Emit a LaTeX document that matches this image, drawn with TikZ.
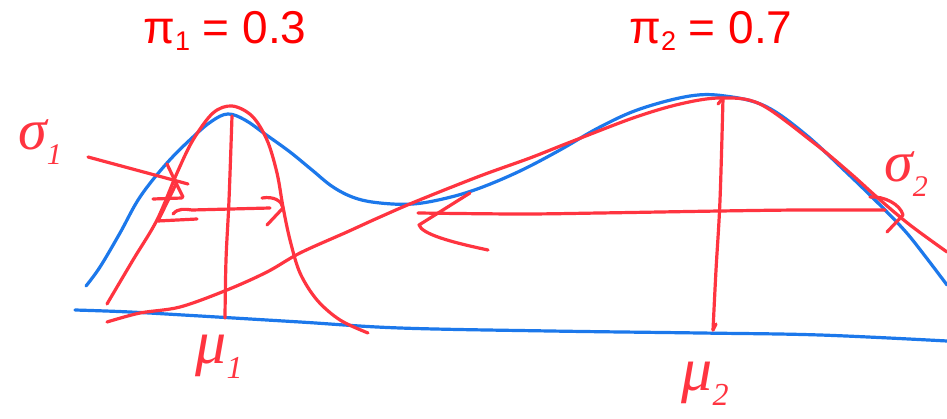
\documentclass[tikz,border=0pt]{standalone}
\usepackage{fontspec}
\setmainfont{Liberation Sans}
\newfontfamily\handfont{Liberation Serif}
\definecolor{penred}{RGB}{255,52,64}
\definecolor{penblue}{RGB}{28,120,235}
\definecolor{titlered}{RGB}{255,0,0}
\newcommand{\lowsub}[2]{\raisebox{-0.16em}{\fontsize{#1}{#1}\selectfont #2}}
\newcommand{\handsub}[2]{\raisebox{-0.25em}{\fontsize{#1}{#1}\selectfont #2}}
\tikzset{
  redpen/.style={draw=penred, line width=3.2pt, line cap=round, line join=round},
  bluepen/.style={draw=penblue, line width=3.2pt, line cap=round, line join=round},
  titletext/.style={text=titlered, inner sep=0pt, font=\fontsize{46}{46}\selectfont},
  handlabel/.style={text=penred, inner sep=0pt, font=\handfont\itshape\fontsize{62}{62}\selectfont},
  sigmalabel/.style={text=penred, inner sep=0pt, font=\handfont\itshape\fontsize{58}{58}\selectfont}
}
\begin{document}
\begin{tikzpicture}[x=1pt, y=-1pt]
\useasboundingbox[fill=white] (0,0) rectangle (947,419);

% titles
\node[titletext] (pi1) at (225,31) {π\lowsub{27}{1} = 0.3};
\node[titletext] (pi2) at (711,31) {π\lowsub{27}{2} = 0.7};

% blue axis
\draw[bluepen] plot[smooth, tension=0.6] coordinates {(75,310) (130,312) (200,316) (300,322) (400,328) (550,331) (700,333) (820,335) (947,341)};

% blue mixture density
\draw[bluepen] plot[smooth, tension=0.6] coordinates {(86,286) (100,267) (120,233) (140,197) (167,163) (193,137) (212,121) (228,114) (245,120) (265,134) (290,152) (312,170) (333,187) (355,198) (380,203) (413,204) (447,198) (480,188) (520,171) (560,150) (600,127) (640,109) (690,96) (725,96) (765,106) (805,134) (845,171) (879,204) (905,231) (925,256) (947,285)};

% red narrow gaussian
\draw[redpen] plot[smooth, tension=0.55] coordinates {(107,304) (133,260) (157,220) (177,173) (193,140) (213,113) (232,106) (252,116) (267,140) (277,173) (283,207) (290,240) (300,273) (317,300) (340,320) (368,333)};

% red wide gaussian
\draw[redpen] plot[smooth, tension=0.55] coordinates {(107,322) (140,313) (180,307) (227,290) (267,272) (300,253) (347,232) (380,217) (417,201) (480,176) (530,158) (568,143) (633,118) (680,104) (720,98) (760,104) (814,143) (850,173) (879,199) (910,225) (947,252)};

% mu1 vertical line
\draw[redpen] plot[smooth, tension=0.6] coordinates {(232,116) (229,200) (226,260) (225,318)};

% mu2 vertical line with small hooks
\draw[redpen] plot[smooth, tension=0.6] coordinates {(723,98) (720,200) (716,270) (713,330)};
\draw[redpen] (718,104) -- (723,98);
\draw[redpen] (713,330) -- (716,324);

% sigma1 bar and arrowheads
\draw[redpen] (173,214) .. controls (178,208) and (185,209) .. (192,210) -- (270,208);
\draw[redpen] (262,198) .. controls (274,196) and (282,201) .. (283,208) -- (267,225);
\draw[redpen] (177,182) -- (158,221) -- (197,219);
% sigma1 pointer scribble
\draw[redpen] (88,157) -- (188,184);
\draw[redpen] (167,164) -- (176,183) -- (183,197);
\draw[redpen] (153,199) -- (182,198);

% sigma2 bar and arrowheads
\draw[redpen] plot[smooth, tension=0.6] coordinates {(418,213) (520,214) (600,213) (720,211) (800,210) (885,210)};
\draw[redpen] (470,193) -- (419,225) .. controls (422,234) and (450,242) .. (488,250);
\draw[redpen] (870,197) .. controls (884,196) and (900,204) .. (903,215) -- (887,232);

% handwritten labels
\node[sigmalabel] (s1) at (40,142) {σ\handsub{30}{1}};
\node[sigmalabel] (s2) at (906,174) {σ\handsub{30}{2}};
\node[handlabel] (m1) at (219,357) {μ\handsub{32}{1}};
\node[handlabel] (m2) at (705,384) {μ\handsub{32}{2}};
\end{tikzpicture}
\end{document}
